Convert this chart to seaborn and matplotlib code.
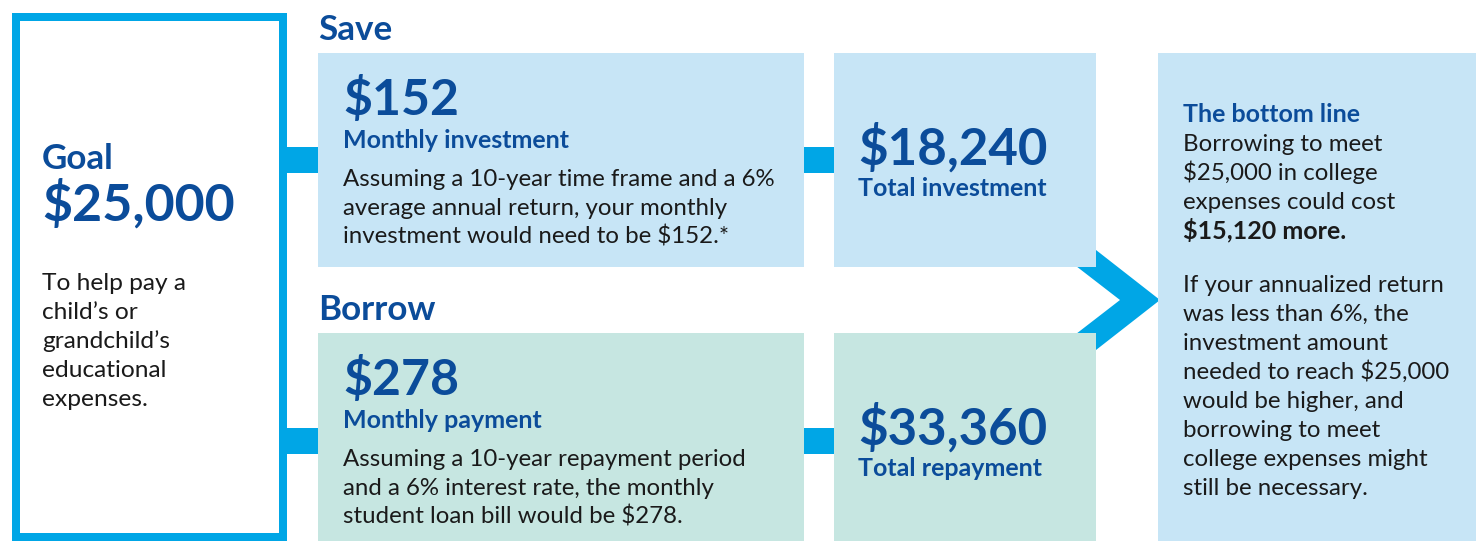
import matplotlib.pyplot as plt
import matplotlib.patches as patches
import seaborn as sns

# ---------------------------------------------------------------------------
# DATA
# ---------------------------------------------------------------------------
Goal_Amount = '$25,000'
Goal_Lines = ['To help pay a', 'child\u2019s or', 'grandchild\u2019s', 'educational', 'expenses.']

Section_Labels = ['Save', 'Borrow']
Monthly_Amounts = ['$152', '$278']
Monthly_Labels = ['Monthly investment', 'Monthly payment']
Monthly_Notes = [['Assuming a 10-year time frame and a 6%',
                  'average annual return, your monthly',
                  'investment would need to be $152.*'],
                 ['Assuming a 10-year repayment period',
                  'and a 6% interest rate, the monthly',
                  'student loan bill would be $278.']]
Total_Amounts = ['$18,240', '$33,360']
Total_Labels = ['Total investment', 'Total repayment']

Bottom_Title = 'The bottom line'
Bottom_Lines = ['Borrowing to meet', '$25,000 in college', 'expenses could cost']
Bottom_Bold = '$15,120 more.'
Bottom_Note = ['If your annualized return', 'was less than 6%, the', 'investment amount',
               'needed to reach $25,000', 'would be higher, and', 'borrowing to meet',
               'college expenses might', 'still be necessary.']

# ---------------------------------------------------------------------------
# STYLE
# ---------------------------------------------------------------------------
sns.set_theme(style='white')
plt.rcParams['font.family'] = ['Lato', 'DejaVu Sans']

Bright_Blue = '#00A6E6'
Dark_Blue = '#0B4C9A'
Text_Color = '#1A1A1A'
Box_Colors = ['#C7E5F6', '#C6E6E1']
PX = 0.72  # points per pixel at dpi 100

Figure = plt.figure(figsize=(14.76, 5.41), dpi=100)
Axis = Figure.add_axes([0, 0, 1, 1])
Axis.set_xlim(0, 1476)
Axis.set_ylim(541, 0)
Axis.axis('off')

def Box(X0, Y0, X1, Y1, Color, Z=2):
    Axis.add_patch(patches.Rectangle((X0, Y0), X1 - X0, Y1 - Y0, facecolor=Color, edgecolor='none', zorder=Z))

def Text(X, Y, S, Size, Color=Text_Color, Weight='normal'):
    Axis.text(X, Y, S, fontsize=Size * PX, color=Color, fontweight=Weight, va='baseline', ha='left', zorder=5)

# Goal box
Axis.add_patch(patches.Rectangle((16, 17), 267, 520, facecolor='white', edgecolor=Bright_Blue,
                                 linewidth=8 * PX, zorder=3))
Text(42, 169, 'Goal', 35, Dark_Blue, 'bold')
Text(42, 221, Goal_Amount, 52, Dark_Blue, 'bold')
for Index, Line in enumerate(Goal_Lines):
    Text(42, 290 + 29 * Index, Line, 24.5)

# Connectors
Row_Tops = [53, 333]
Row_Bottoms = [267, 541]
for Row in range(2):
    Y_Mid = [160, 441][Row]
    Box(283, Y_Mid - 13, 318, Y_Mid + 13, Bright_Blue)
    Box(802, Y_Mid - 13, 834, Y_Mid + 13, Bright_Blue)

# Chevron arrow
Axis.add_patch(patches.Polygon([(1096, 250), (1160, 300), (1096, 350), (1076, 334),
                                (1120, 300), (1076, 266)], closed=True,
                               facecolor=Bright_Blue, edgecolor='none', zorder=1))

# Save / Borrow rows
for Row in range(2):
    Top = Row_Tops[Row]
    Bottom = Row_Bottoms[Row]
    Box(318, Top, 804, Bottom, Box_Colors[Row])
    Box(834, Top, 1096, Bottom, Box_Colors[Row])
    Text(318, Top - 13, Section_Labels[Row], 35, Dark_Blue, 'bold')
    Text(343, Top + 62, Monthly_Amounts[Row], 50, Dark_Blue, 'bold')
    Text(343, Top + 95, Monthly_Labels[Row], 25, Dark_Blue, 'bold')
    for Index, Line in enumerate(Monthly_Notes[Row]):
        Text(343, Top + 133 + 29 * Index, Line, 24)
    Text(858, Top + 112, Total_Amounts[Row], 51, Dark_Blue, 'bold')
    Text(858, Top + 143, Total_Labels[Row], 25, Dark_Blue, 'bold')

# Bottom line box
Box(1158, 53, 1476, 541, Box_Colors[0])
Text(1183, 122, Bottom_Title, 25, Dark_Blue, 'bold')
for Index, Line in enumerate(Bottom_Lines):
    Text(1183, 151 + 29 * Index, Line, 24)
Text(1183, 238, Bottom_Bold, 25, Text_Color, 'bold')
for Index, Line in enumerate(Bottom_Note):
    Text(1183, 292 + 29 * Index, Line, 24)

Figure.savefig('out.png', dpi=100)
